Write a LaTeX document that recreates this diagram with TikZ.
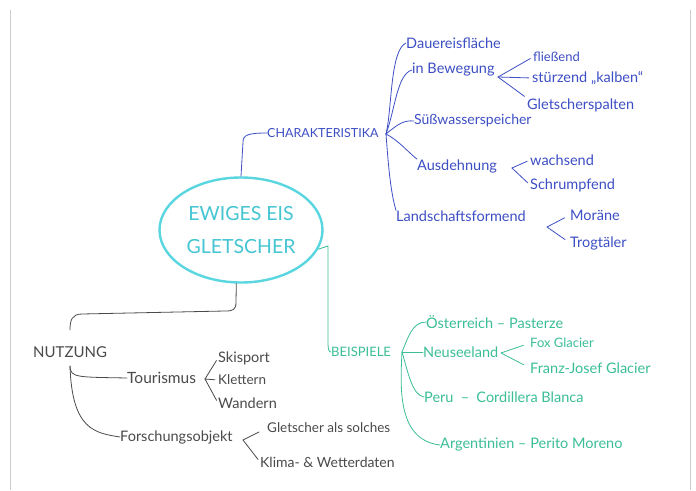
\documentclass[tikz,border=0pt]{standalone}
\usepackage{fontspec}
\setmainfont{Lato}
\usetikzlibrary{shapes.geometric}
\definecolor{penblue}{HTML}{3D4FC4}
\definecolor{pengreen}{HTML}{3BBE98}
\definecolor{pencyan}{HTML}{5AD6E0}
\definecolor{pencyantext}{HTML}{45C6D2}
\definecolor{pengray}{HTML}{4A4A4A}
\definecolor{scanedge}{HTML}{CFCFCF}
\tikzset{
  sz/.style={font=\fontsize{#1}{#1}\selectfont},
  lbl/.style={anchor=west, inner sep=0pt, sz=14.5},
  bluetxt/.style={lbl, text=penblue},
  greentxt/.style={lbl, text=pengreen},
  graytxt/.style={lbl, text=pengray},
  blueline/.style={draw=penblue, line width=0.8pt, line cap=round},
  greenline/.style={draw=pengreen, line width=0.8pt, line cap=round},
  grayline/.style={draw=pengray, line width=0.8pt, line cap=round},
  fork/.style={shorten >=3pt},
}
\begin{document}
\begin{tikzpicture}[x=1pt,y=-1pt]
\useasboundingbox (0,0) rectangle (696,490);
\fill[white] (0,0) rectangle (696,490);
% scan edges
\draw[scanedge, line width=1pt] (10,10) -- (10,490);
\draw[scanedge, line width=1pt] (690,10) -- (690,490);

% central ellipse
\node[ellipse, draw=pencyan, line width=2.4pt, minimum width=163pt, minimum height=105pt,
      inner sep=0pt, text=pencyantext, align=center,
      font=\fontsize{19.5}{33}\selectfont] (ell) at (241,230) {EWIGES EIS\\GLETSCHER};

% ---------- CHARAKTERISTIKA (blue) ----------
\node[bluetxt, sz=12.5] (char) at (267,133) {CHARAKTERISTIKA};
\coordinate (bC) at (386,134);
\draw[blueline] (ell.north) -- (243,142) .. controls (243,135) and (248,133) .. (char.west);

\node[bluetxt] (dauer) at (406,43) {Dauereisfläche};
\node[bluetxt] (bew) at (412,70) {in Bewegung};
\node[bluetxt, sz=14] (suess) at (414,121) {Süßwasserspeicher};
\node[bluetxt] (ausd) at (417,166) {Ausdehnung};
\node[bluetxt] (land) at (396,216) {Landschaftsformend};

\draw[blueline] (bC) .. controls (392,110) and (390,50) .. (dauer.west);
\draw[blueline] (bC) .. controls (395,110) and (397,74) .. (bew.west);
\draw[blueline] (bC) .. controls (398,124) and (404,120) .. (suess.west);
\draw[blueline] (bC) .. controls (398,140) and (408,152) .. (ausd.north west);
\draw[blueline] (bC) .. controls (388,160) and (390,190) .. (land.north west);

% in Bewegung
\node[bluetxt, sz=13] (fl) at (533,57) {fließend};
\node[bluetxt] (st) at (532,78) {stürzend „kalben“};
\node[bluetxt] (gs) at (527,105) {Gletscherspalten};
\coordinate (bB) at (498,77);
\draw[blueline, fork] (bB) -- (fl.west);
\draw[blueline, fork] (bB) -- (st.west);
\draw[blueline, fork] (bB) -- (gs.north west);

% Ausdehnung
\node[bluetxt] (wa) at (530,160) {wachsend};
\node[bluetxt] (sc) at (530,185) {Schrumpfend};
\coordinate (bA) at (512,168);
\draw[blueline, fork] (bA) -- (wa.west);
\draw[blueline, fork] (bA) -- (sc.west);

% Landschaftsformend
\node[bluetxt] (mo) at (570,215) {Moräne};
\node[bluetxt] (tr) at (570,243) {Trogtäler};
\coordinate (bL) at (547,227);
\draw[blueline, fork, shorten >=6pt] (bL) -- (mo.west);
\draw[blueline, fork, shorten >=6pt] (bL) -- (tr.west);

% ---------- BEISPIELE (green) ----------
\node[greentxt, sz=13] (beisp) at (331,352) {BEISPIELE};
\coordinate (bG) at (402,352);
\draw[greenline] (ell.-14) -- (328,246) -- (328,342) .. controls (328,350) and (329,352) .. (beisp.west);

\node[greentxt] (oe) at (426,322) {Österreich – Pasterze};
\node[greentxt] (ne) at (423,352) {Neuseeland};
\node[greentxt] (pe) at (424,397) {Peru\enspace–\enspace Cordillera Blanca};
\node[greentxt] (ar) at (440,445) {Argentinien – Perito Moreno};

\draw[greenline] (bG) .. controls (408,338) and (412,322) .. (oe.west);
\draw[greenline] (bG) -- (ne.west);
\draw[greenline] (bG) .. controls (408,372) and (412,395) .. (pe.west);
\draw[greenline] (bG) .. controls (400,390) and (398,440) .. (ar.west);

\node[greentxt, sz=13] (fox) at (530,343) {Fox Glacier};
\node[greentxt] (fj) at (530,368) {Franz-Josef Glacier};
\coordinate (bN) at (501,353);
\draw[greenline, fork, shorten >=7pt] (bN) -- (fox.west);
\draw[greenline, fork, shorten >=7pt] (bN) -- (fj.west);

% ---------- NUTZUNG (gray) ----------
\node[graytxt, sz=15] (nu) at (33,352) {NUTZUNG};
\draw[grayline] (ell.-95) -- (236,302) .. controls (236,310) and (233,311) .. (225,311)
   -- (82,314) .. controls (72,314) and (70,320) .. (70,330);
\coordinate (bU) at (70,366);

\node[graytxt, sz=15.5] (to) at (127,378) {Tourismus};
\node[graytxt] (fo) at (120,437) {Forschungsobjekt};
\draw[grayline] (bU) .. controls (70,378) and (78,377) .. (to.west);
\draw[grayline] (bU) .. controls (72,430) and (95,433) .. (fo.west);

\node[graytxt] (sk) at (218,358) {Skisport};
\node[graytxt, sz=13.5] (kl) at (218,380) {Klettern};
\node[graytxt] (wa2) at (218,403) {Wandern};
\coordinate (bT) at (205,379);
\draw[grayline, fork] (bT) -- (sk.west);
\draw[grayline, fork] (bT) -- (kl.west);
\draw[grayline, fork] (bT) -- (wa2.west);

\node[graytxt, sz=13.5] (gl) at (267,428) {Gletscher als solches};
\node[graytxt, sz=14] (kw) at (260,462) {Klima- \& Wetterdaten};
\coordinate (bF) at (243,440);
\draw[grayline, fork, shorten >=9pt] (bF) -- (gl.west);
\draw[grayline, fork] (bF) -- (kw.west);
\end{tikzpicture}
\end{document}
